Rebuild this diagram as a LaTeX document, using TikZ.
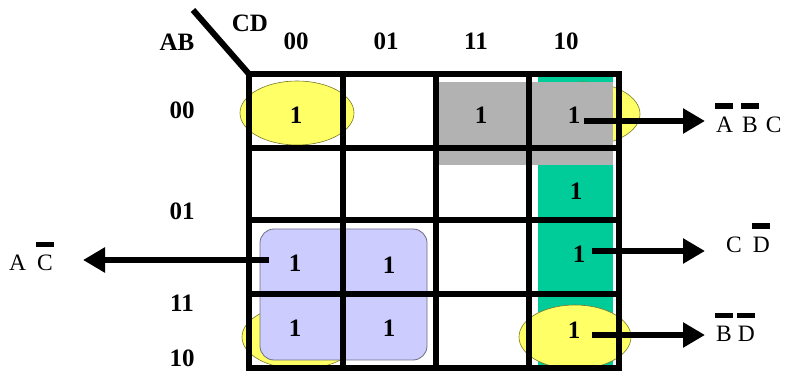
\documentclass[tikz,border=0pt]{standalone}
\usepackage{fontspec}
\setmainfont{Liberation Serif}
\usetikzlibrary{arrows.meta}
\definecolor{kyellow}{RGB}{255,255,102}
\definecolor{kgray}{RGB}{178,178,178}
\definecolor{kgreen}{RGB}{0,204,153}
\definecolor{kpurple}{RGB}{204,204,255}
\definecolor{kolive}{RGB}{120,120,40}
\definecolor{kborder}{RGB}{110,110,130}
\newcommand\ob[1]{\makebox[0pt][l]{\hspace{-1pt}\raisebox{24pt}{\rule{18pt}{5.5pt}}}#1}
\begin{document}
\begin{tikzpicture}[x=1pt,y=-1pt,
  gridline/.style={line width=6pt},
  one/.style={font=\bfseries\fontsize{25}{27}\selectfont, inner sep=0pt},
  hdr/.style={font=\bfseries\fontsize{25}{27}\selectfont, inner sep=0pt},
  expr/.style={font=\fontsize{23.5}{26}\selectfont, inner sep=0pt, anchor=base west},
  outarrow/.style={line width=6pt, -{Triangle[length=22pt,width=24pt]}},
  loopell/.style={draw=kolive, line width=0.6pt, fill=kyellow}
]
\useasboundingbox (0,0) rectangle (788,374);
% groupings (behind the grid)
\fill[kgreen] (538,76) rectangle (613,368);
\draw[loopell] (297,113) ellipse [x radius=57pt, y radius=32pt];
\draw[loopell] (583,114) ellipse [x radius=57pt, y radius=32pt];
\draw[loopell] (300,337) ellipse [x radius=58pt, y radius=32pt];
\fill[kgray] (438,82) rectangle (613,165);
\draw[draw=kborder, line width=0.8pt, fill=kpurple, rounded corners=14pt] (260,229) rectangle (427,360);
\draw[loopell] (575,337) ellipse [x radius=56pt, y radius=32pt];
% grid
\draw[gridline] (249,74) rectangle (619,368);
\foreach \x in {343,436,529} \draw[gridline] (\x,74) -- (\x,368);
\foreach \y in {148,220,294} \draw[gridline] (249,\y) -- (619,\y);
\draw[gridline] (193,10) -- (249,74);
% headers
\node[hdr] (hAB) at (177,42) {AB};
\node[hdr] (hCD) at (250,23) {CD};
\node[hdr] (c00) at (296,41) {00};
\node[hdr] (c01) at (386,41) {01};
\node[hdr] (c11) at (476,41) {11};
\node[hdr] (c10) at (566,41) {10};
\node[hdr] (r00) at (182,110) {00};
\node[hdr] (r01) at (182,211) {01};
\node[hdr] (r11) at (182,303) {11};
\node[hdr] (r10) at (182,358) {10};
% cell entries
\node[one] (o00) at (296,115) {1};
\node[one] (o02) at (481,115) {1};
\node[one] (o03) at (574,115) {1};
\node[one] (o13) at (576,191) {1};
\node[one] (o23) at (579,254) {1};
\node[one] (o20) at (295,263) {1};
\node[one] (o21) at (389,265) {1};
\node[one] (o30) at (295,328) {1};
\node[one] (o31) at (389,328) {1};
\node[one] (o33) at (574,330) {1};
% result labels
\node[expr] (eABC) at (716,133) {\ob{A}\hspace{9pt}\ob{B}\hspace{8pt}C};
\node[expr] (eCD) at (726,253) {C\hspace{11pt}\ob{D}};
\node[expr] (eBD) at (716,342) {\ob{B}\hspace{6pt}\ob{D}};
\node[expr] (eAC) at (9,271) {A\hspace{11pt}\ob{C}};
% arrows
\coordinate (t1) at (705,121);
\coordinate (t2) at (705,251);
\coordinate (t3) at (705,335);
\coordinate (t4) at (83,260);
\draw[outarrow, shorten <=4pt] (o03.east |- t1) -- (t1);
\draw[outarrow, shorten <=7pt] (o23.east |- t2) -- (t2);
\draw[outarrow, shorten <=12pt] (o33.east |- t3) -- (t3);
\draw[outarrow, shorten <=20pt] (o20.west |- t4) -- (t4);
\end{tikzpicture}
\end{document}
